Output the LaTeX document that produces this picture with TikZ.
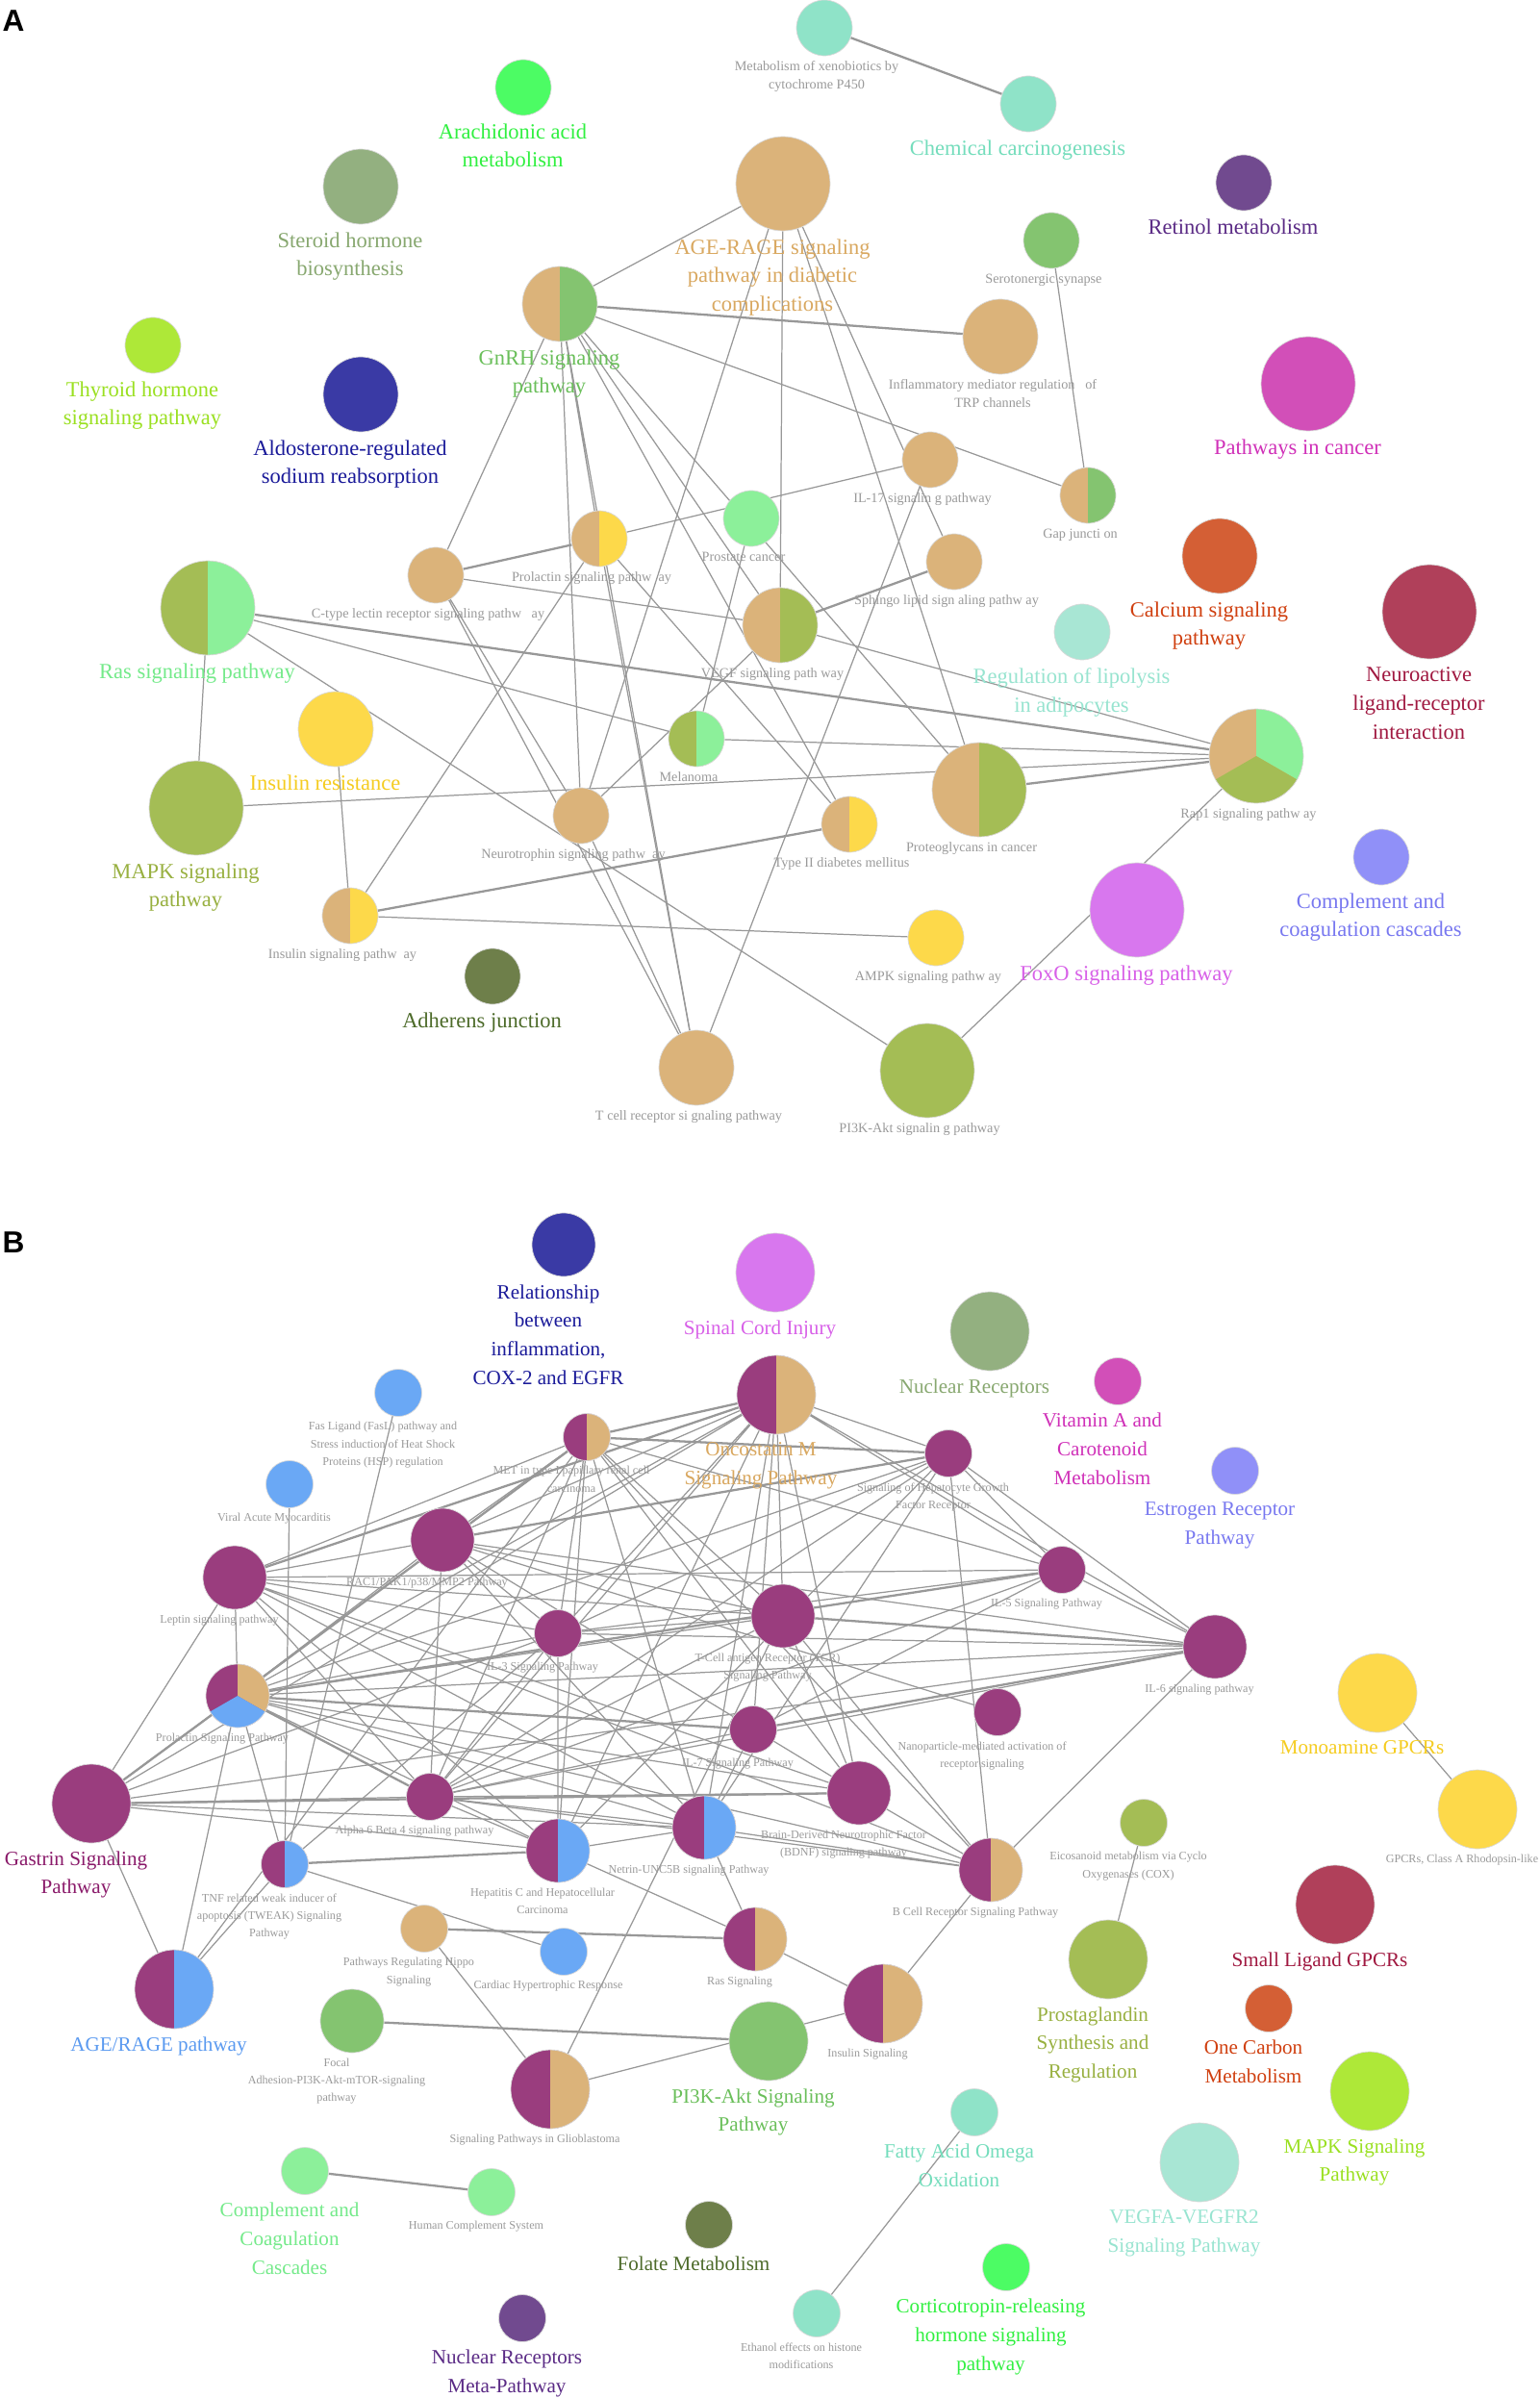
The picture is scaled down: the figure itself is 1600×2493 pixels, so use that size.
\documentclass[tikz,border=0pt]{standalone}
\usepackage{fontspec}
\setmainfont{Liberation Serif}
\newfontfamily\panelfont{Liberation Sans}
\usetikzlibrary{shapes}
\pgfdeclarelayer{paper}
\pgfdeclarelayer{links}
\pgfsetlayers{paper,links,main}

\definecolor{tanc}{HTML}{DBB37A}
\definecolor{grnc}{HTML}{84C470}
\definecolor{olvc}{HTML}{A4BD55}
\definecolor{ltgc}{HTML}{8CF09A}
\definecolor{ylwc}{HTML}{FDD94A}
\definecolor{tealc}{HTML}{8FE3C8}
\definecolor{ptealc}{HTML}{A8E6D4}
\definecolor{brgc}{HTML}{4CFC64}
\definecolor{sagec}{HTML}{93B080}
\definecolor{navyc}{HTML}{3A3AA5}
\definecolor{prplc}{HTML}{714A8F}
\definecolor{magc}{HTML}{D24FB8}
\definecolor{orgc}{HTML}{D45F35}
\definecolor{crmc}{HTML}{B0405A}
\definecolor{ygc}{HTML}{AEE838}
\definecolor{vltc}{HTML}{D877EE}
\definecolor{perc}{HTML}{9090F8}
\definecolor{dolvc}{HTML}{6E7F4A}
\definecolor{plumc}{HTML}{9A3D7E}
\definecolor{skyc}{HTML}{6AA8F5}
\definecolor{labgray}{HTML}{9A9A9A}
\definecolor{linkc}{HTML}{989898}
% label colours
\definecolor{navyt}{HTML}{1A1A99}
\definecolor{magt}{HTML}{D030B8}
\definecolor{prplt}{HTML}{5A2A85}
\definecolor{crmt}{HTML}{A01840}
\definecolor{orgt}{HTML}{D04010}
\definecolor{plumt}{HTML}{8A1A6A}
\definecolor{dolvt}{HTML}{4D6B2A}
\definecolor{tant}{HTML}{D9A860}
\definecolor{grnt}{HTML}{6ABF5A}
\definecolor{ltgt}{HTML}{74EA8A}
\definecolor{tealt}{HTML}{74DDBC}
\definecolor{ptealt}{HTML}{98E4D0}
\definecolor{olvt}{HTML}{98B040}
\definecolor{ylwt}{HTML}{F5CC20}
\definecolor{ygt}{HTML}{9AE020}
\definecolor{vltt}{HTML}{D860E8}
\definecolor{pert}{HTML}{7878F0}
\definecolor{brgt}{HTML}{30F040}
\definecolor{saget}{HTML}{88A870}
\definecolor{skyt}{HTML}{5A9AF0}

\begin{document}
\begin{tikzpicture}[x=0.02cm, y=-0.02cm]
\tikzset{
  term/.style={circle, draw=gray!30, line width=0.4pt, inner sep=0pt, fill=#1},
  sA/.style={term=#1, minimum size=1.16cm},
  mA/.style={term=#1, minimum size=1.56cm},
  lA/.style={term=#1, minimum size=1.96cm},
  sB/.style={term=#1, minimum size=0.98cm},
  mB/.style={term=#1, minimum size=1.32cm},
  lB/.style={term=#1, minimum size=1.64cm},
  half/.style={path picture={\fill[#1] (path picture bounding box.north) rectangle (path picture bounding box.south east);}},
  tri/.style 2 args={path picture={
    \fill[#1] (path picture bounding box.center) -- +(90:3cm) -- +(30:3cm) -- +(-30:3cm) -- cycle;
    \fill[#2] (path picture bounding box.center) -- +(210:3cm) -- +(270:3cm) -- +(330:3cm) -- cycle;}},
  bigA/.style={font=\fontsize{12.8}{17}\selectfont, align=center, inner sep=1pt, xshift=-0.22cm, yshift=-0.12cm, text=#1},
  smA/.style={font=\fontsize{8.1}{10.6}\selectfont, align=center, inner sep=1pt, xshift=-0.16cm, yshift=-0.07cm, text=labgray},
  bigB/.style={font=\fontsize{12}{17}\selectfont, align=center, inner sep=1pt, xshift=-0.32cm, yshift=-0.12cm, text=#1},
  smB/.style={font=\fontsize{6.9}{10.4}\selectfont, align=center, inner sep=1pt, xshift=-0.32cm, yshift=-0.07cm, text=labgray},
  link/.style={draw=linkc, line width=0.7pt},
  tlink/.style={draw=linkc, line width=1.3pt},
  panel/.style={font=\panelfont\bfseries\fontsize{18}{18}\selectfont, inner sep=0pt}
}
\useasboundingbox (0,0) rectangle (1600,2493);
\begin{pgfonlayer}{paper}
\fill[white] (0,0) rectangle (1600,2493);
\end{pgfonlayer}

%panel A
\node[panel] (pa) at (14,22) {A};
\node[sA=tealc, label={[smA]below:{Metabolism of xenobiotics by\\cytochrome P450}}] (xeno) at (857,29) {};
\node[sA=tealc, label={[bigA=tealt]below:{Chemical carcinogenesis}}] (chem) at (1069,108) {};
\node[sA=brgc, label={[bigA=brgt]below:{Arachidonic acid\\metabolism}}] (arach) at (544,91) {};
\node[mA=sagec, label={[bigA=saget]below:{Steroid hormone\\biosynthesis}}] (steroid) at (375,194) {};
\node[sA=prplc, label={[bigA=prplt]below:{Retinol metabolism}}] (retinol) at (1293,190) {};
\node[lA=tanc, label={[bigA=tant]below:{AGE-RAGE signaling\\pathway in diabetic\\complications}}] (agr) at (814,191) {};
\node[sA=grnc, label={[smA]below:{Serotonergic synapse}}] (sero) at (1093,250) {};
\node[mA=tanc, half=grnc, label={[bigA=grnt]below:{GnRH signaling\\pathway}}] (gnrh) at (582,316) {};
\node[mA=tanc, label={[smA]below:{Inflammatory mediator regulation~~~of\\TRP channels}}] (inflam) at (1040,350) {};
\node[sA=ygc, label={[bigA=ygt]below:{Thyroid hormone\\signaling pathway}}] (thyroid) at (159,359) {};
\node[mA=navyc, label={[bigA=navyt]below:{Aldosterone-regulated\\sodium reabsorption}}] (aldo) at (375,410) {};
\node[lA=magc, label={[bigA=magt]below:{Pathways in cancer}}] (cancer) at (1360,399) {};
\node[sA=tanc, label={[smA]below:{IL-17 signalin g pathway}}] (il17) at (967,478) {};
\node[sA=tanc, half=grnc, label={[smA]below:{Gap juncti on}}] (gap) at (1131,515) {};
\node[sA=ltgc, label={[smA]below:{Prostate cancer}}] (prostate) at (781,539) {};
\node[sA=tanc, half=ylwc, label={[smA]below:{Prolactin signaling pathw~~ay}}] (prlA) at (623,560) {};
\node[sA=tanc, label={[smA]below:{C-type lectin receptor signaling pathw~~~ay}}] (ctype) at (453,598) {};
\node[sA=tanc, label={[smA]below:{Sphingo lipid sign aling pathw ay}}] (sphingo) at (992,584) {};
\node[mA=orgc, label={[bigA=orgt]below:{Calcium signaling\\pathway}}] (calcium) at (1268,578) {};
\node[lA=crmc, label={[bigA=crmt]below:{Neuroactive\\ligand-receptor\\interaction}}] (nlr) at (1486,636) {};
\node[lA=olvc, half=ltgc, label={[bigA=ltgt]below:{Ras signaling pathway}}] (ras) at (216,632) {};
\node[mA=tanc, half=olvc, label={[smA]below:{VEGF signaling path way}}] (vegf) at (811,650) {};
\node[sA=ptealc, label={[bigA=ptealt]below:{Regulation of lipolysis\\in adipocytes}}] (lipo) at (1125,657) {};
\node[mA=ylwc, label={[bigA=ylwt]below:{Insulin resistance}}] (insres) at (349,758) {};
\node[sA=olvc, half=ltgc, label={[smA]below:{Melanoma}}] (melanoma) at (724,768) {};
\node[lA=tanc, tri={ltgc}{olvc}, label={[smA]below:{Rap1 signaling pathw ay}}] (rap1) at (1306,786) {};
\node[lA=tanc, half=olvc, label={[smA]below:{Proteoglycans in cancer}}] (proteo) at (1018,821) {};
\node[lA=olvc, label={[bigA=olvt]below:{MAPK signaling\\pathway}}] (mapk) at (204,840) {};
\node[sA=tanc, label={[smA]below:{Neurotrophin signaling pathw~~ay}}] (neurotro) at (604,848) {};
\node[sA=tanc, half=ylwc, label={[smA]below:{Type II diabetes mellitus}}] (t2d) at (883,857) {};
\node[sA=perc, label={[bigA=pert]below:{Complement and\\coagulation cascades}}] (complA) at (1436,891) {};
\node[sA=tanc, half=ylwc, label={[smA]below:{Insulin signaling pathw~~ay}}] (inssig) at (364,952) {};
\node[sA=ylwc, label={[smA]below:{AMPK signaling pathw ay}}] (ampk) at (973,975) {};
\node[lA=vltc, label={[bigA=vltt]below:{FoxO signaling pathway}}] (foxo) at (1182,946) {};
\node[sA=dolvc, label={[bigA=dolvt]below:{Adherens junction}}] (adherens) at (512,1015) {};
\node[mA=tanc, label={[smA]below:{T cell receptor si gnaling pathway}}] (tcell) at (724,1110) {};
\node[lA=olvc, label={[smA]below:{PI3K-Akt signalin g pathway}}] (pi3k) at (964,1113) {};

%panel B
\node[panel] (pb) at (14,1292) {B};
\node[mB=navyc, label={[bigB=navyt]below:{Relationship\\between\\inflammation,\\COX-2 and EGFR}}] (rel) at (586,1294) {};
\node[lB=vltc, label={[bigB=vltt]below:{Spinal Cord Injury}}] (spinal) at (806,1323) {};
\node[lB=sagec, label={[bigB=saget]below:{Nuclear Receptors}}] (nucrec) at (1029,1384) {};
\node[sB=magc, label={[bigB=magt]below:{Vitamin A and\\Carotenoid\\Metabolism}}] (vita) at (1162,1436) {};
\node[sB=perc, label={[bigB=pert]below:{Estrogen Receptor\\Pathway}}] (estro) at (1284,1529) {};
\node[lB=plumc, half=tanc, label={[bigB=tant]below:{Oncostatin M\\Signaling Pathway}}] (onco) at (807,1450) {};
\node[sB=plumc, half=tanc, label={[smB]below:{MET in type I papillary renal cell\\carcinoma}}] (met) at (610,1494) {};
\node[sB=plumc, label={[smB]below:{Signaling of Hepatocyte Growth\\Factor Receptor}}] (hgf) at (986,1511) {};
\node[sB=skyc, label={[smB]below:{Fas Ligand (FasL) pathway and\\Stress induction of Heat Shock\\Proteins (HSP) regulation}}] (fas) at (414,1448) {};
\node[sB=skyc, label={[smB]below:{Viral Acute Myocarditis}}] (viral) at (301,1543) {};
\node[mB=plumc, label={[smB]below:{RAC1/PAK1/p38/MMP2 Pathway}}] (rac) at (460,1601) {};
\node[mB=plumc, label={[smB]below:{Leptin signaling pathway}}] (leptin) at (244,1640) {};
\node[sB=plumc, label={[smB]below:{IL-3 Signaling Pathway}}] (il3) at (580,1698) {};
\node[sB=plumc, label={[smB]below:{IL-5 Signaling Pathway}}] (il5) at (1104,1632) {};
\node[mB=plumc, label={[smB]below:{T-Cell antigen Receptor (TCR)\\Signaling Pathway}}] (tcr) at (814,1680) {};
\node[mB=plumc, label={[smB]below:{IL-6 signaling pathway}}] (il6) at (1263,1712) {};
\node[mB=plumc, tri={tanc}{skyc}, label={[smB]below:{Prolactin Signaling Pathway}}] (prlB) at (247,1763) {};
\node[sB=plumc, label={[smB]below:{IL-7 Signaling Pathway}}] (il7) at (783,1798) {};
\node[sB=plumc, label={[smB]below:{Nanoparticle-mediated activation of\\receptor signaling}}] (nano) at (1037,1780) {};
\node[lB=ylwc, label={[bigB=ylwt]below:{Monoamine GPCRs}}] (mono) at (1432,1760) {};
\node[sB=plumc, label={[smB]below:{Alpha 6 Beta 4 signaling pathway}}] (alpha) at (447,1868) {};
\node[lB=plumc, label={[bigB=plumt]below:{Gastrin Signaling\\Pathway}}] (gastrin) at (95,1875) {};
\node[mB=plumc, label={[smB]below:{Brain-Derived Neurotrophic Factor\\(BDNF) signaling pathway}}] (bdnf) at (893,1864) {};
\node[mB=plumc, half=skyc, label={[smB]below:{Netrin-UNC5B signaling Pathway}}] (netrin) at (732,1900) {};
\node[mB=plumc, half=skyc, label={[smB]below:{Hepatitis C and Hepatocellular\\Carcinoma}}] (hepc) at (580,1924) {};
\node[sB=plumc, half=skyc, label={[smB]below:{TNF related weak inducer of\\apoptosis (TWEAK) Signaling\\Pathway}}] (tweak) at (296,1938) {};
\node[sB=olvc, label={[smB]below:{Eicosanoid metabolism via Cyclo\\Oxygenases (COX)}}] (eico) at (1189,1895) {};
\node[lB=ylwc, label={[smB]below:{GPCRs, Class A Rhodopsin-like}}] (gpcr) at (1536,1881) {};
\node[mB=plumc, half=tanc, label={[smB]below:{B Cell Receptor Signaling Pathway}}] (bcell) at (1030,1944) {};
\node[lB=crmc, label={[bigB=crmt]below:{Small Ligand GPCRs}}] (slig) at (1388,1980) {};
\node[sB=tanc, label={[smB]below:{Pathways Regulating Hippo\\Signaling}}] (hippo) at (441,2005) {};
\node[sB=skyc, label={[smB]below:{Cardiac Hypertrophic Response}}] (cardiac) at (586,2029) {};
\node[mB=plumc, half=tanc, label={[smB]below:{Ras Signaling}}] (rasB) at (785,2016) {};
\node[lB=plumc, half=skyc, label={[bigB=skyt]below:{AGE/RAGE pathway}}] (agerage) at (181,2068) {};
\node[lB=plumc, half=tanc, label={[smB]below:{Insulin Signaling}}] (insB) at (918,2083) {};
\node[mB=grnc, label={[smB]below:{Focal\\Adhesion-PI3K-Akt-mTOR-signaling\\pathway}}] (focal) at (366,2101) {};
\node[lB=olvc, label={[bigB=olvt]below:{Prostaglandin\\Synthesis and\\Regulation}}] (prosta) at (1152,2037) {};
\node[sB=orgc, label={[bigB=orgt]below:{One Carbon\\Metabolism}}] (onec) at (1319,2088) {};
\node[lB=grnc, label={[bigB=grnt]below:{PI3K-Akt Signaling\\Pathway}}] (pi3kB) at (799,2122) {};
\node[lB=plumc, half=tanc, label={[smB]below:{Signaling Pathways in Glioblastoma}}] (glio) at (572,2172) {};
\node[lB=ygc, label={[bigB=ygt]below:{MAPK Signaling\\Pathway}}] (mapkB) at (1424,2174) {};
\node[sB=tealc, label={[bigB=tealt]below:{Fatty Acid Omega\\Oxidation}}] (fatty) at (1013,2196) {};
\node[sB=ltgc, label={[bigB=ltgt]below:{Complement and\\Coagulation\\Cascades}}] (compB) at (317,2257) {};
\node[sB=ltgc, label={[smB]below:{Human Complement System}}] (humcomp) at (511,2279) {};
\node[lB=ptealc, label={[bigB=ptealt]below:{VEGFA-VEGFR2\\Signaling Pathway}}] (vegfa) at (1247,2248) {};
\node[sB=dolvc, label={[bigB=dolvt]below:{Folate Metabolism}}] (folate) at (737,2313) {};
\node[sB=brgc, label={[bigB=brgt]below:{Corticotropin-releasing\\hormone signaling\\pathway}}] (crh) at (1046,2357) {};
\node[sB=tealc, label={[smB]below:{Ethanol effects on histone\\modifications}}] (ethanol) at (849,2405) {};
\node[sB=prplc, label={[bigB=prplt]below:{Nuclear Receptors\\Meta-Pathway}}] (nrmeta) at (543,2410) {};

\begin{pgfonlayer}{links}
%draw links A
\draw[tlink] (xeno) -- (chem) (gnrh) -- (inflam) (ctype) -- (prlA) (sphingo) -- (vegf)
  (proteo) -- (rap1) (ras) -- (rap1) (inssig) -- (t2d);
\draw[link] (agr) -- (gnrh) (agr) -- (neurotro) (agr) -- (vegf) (agr) -- (proteo) (agr) -- (sphingo);
\draw[link] (gnrh) -- (gap) (sero) -- (gap) (gnrh) -- (ctype) (gnrh) -- (prlA) (gnrh) -- (neurotro)
  (gnrh) -- (tcell) (gnrh) -- (vegf) (gnrh) -- (proteo) (gnrh) -- (t2d);
\draw[link] (prlA) -- (il17) (ctype) -- (vegf) (ctype) -- (neurotro) (ctype) -- (tcell) (il17) -- (tcell);
\draw[link] (vegf) -- (rap1) (vegf) -- (neurotro) (melanoma) -- (rap1) (mapk) -- (rap1)
  (ras) -- (melanoma) (ras) -- (mapk) (ras) -- (pi3k) (prostate) -- (melanoma);
\draw[link] (insres) -- (inssig) (inssig) -- (ampk) (inssig) -- (prlA) (neurotro) -- (tcell)
  (prlA) -- (t2d) (prlA) -- (tcell) (rap1) -- (pi3k);

%draw links B
\draw[tlink] (prlB) -- (gastrin) (prlB) -- (alpha) (met) -- (prlB) (met) -- (onco) (rac) -- (hgf)
  (gastrin) -- (bdnf) (hepc) -- (tweak) (il5) -- (prlB) (il6) -- (il7) (leptin) -- (onco)
  (focal) -- (pi3kB) (hippo) -- (rasB) (compB) -- (humcomp) (il7) -- (prlB) (il6) -- (tcr)
  (met) -- (hgf);
\draw[link] (leptin) -- (gastrin) (leptin) -- (prlB) (leptin) -- (met) (leptin) -- (rac)
  (leptin) -- (il5) (leptin) -- (tcr) (leptin) -- (il3) (leptin) -- (alpha) (leptin) -- (hepc)
  (leptin) -- (bdnf) (leptin) -- (bcell) (leptin) -- (netrin);
\draw[link] (rac) -- (onco) (rac) -- (met) (rac) -- (il3) (rac) -- (tcr) (rac) -- (alpha)
  (rac) -- (bdnf) (rac) -- (nano) (rac) -- (netrin) (rac) -- (il6) (rac) -- (prlB);
\draw[link] (met) -- (il3) (met) -- (tcr) (met) -- (il5) (met) -- (bdnf) (met) -- (bcell)
  (met) -- (netrin) (met) -- (alpha) (met) -- (gastrin) (met) -- (agerage) (met) -- (hepc);
\draw[link] (onco) -- (hgf) (onco) -- (il5) (onco) -- (il6) (onco) -- (il3) (onco) -- (tcr)
  (onco) -- (alpha) (onco) -- (prlB) (onco) -- (hepc) (onco) -- (bdnf) (onco) -- (netrin)
  (onco) -- (il7) (onco) -- (gastrin);
\draw[link] (hgf) -- (il5) (hgf) -- (il6) (hgf) -- (prlB) (hgf) -- (il3) (hgf) -- (alpha)
  (hgf) -- (hepc) (hgf) -- (bcell) (hgf) -- (netrin);
\draw[link] (il5) -- (il6) (il5) -- (il7) (il5) -- (il3) (il5) -- (alpha)
  (il6) -- (prlB) (il6) -- (il3) (il6) -- (alpha) (il6) -- (bcell) (il6) -- (gastrin);
\draw[link] (il3) -- (prlB) (il3) -- (tcr) (il3) -- (alpha) (il3) -- (hepc) (il3) -- (gastrin)
  (il3) -- (tweak) (tcr) -- (prlB) (tcr) -- (alpha) (tcr) -- (bdnf) (tcr) -- (bcell);
\draw[link] (il7) -- (netrin) (il7) -- (alpha) (bdnf) -- (bcell) (bdnf) -- (prlB) (bdnf) -- (alpha)
  (bcell) -- (prlB) (bcell) -- (netrin) (bcell) -- (alpha) (bcell) -- (insB);
\draw[link] (netrin) -- (prlB) (netrin) -- (alpha) (netrin) -- (hepc) (netrin) -- (gastrin)
  (netrin) -- (rasB) (hepc) -- (prlB) (hepc) -- (alpha) (hepc) -- (gastrin) (hepc) -- (rasB);
\draw[link] (tweak) -- (prlB) (tweak) -- (agerage) (tweak) -- (viral) (tweak) -- (fas)
  (tweak) -- (cardiac) (alpha) -- (gastrin) (gastrin) -- (agerage) (agerage) -- (prlB);
\draw[link] (rasB) -- (insB) (glio) -- (hippo) (glio) -- (insB) (glio) -- (tcr)
  (eico) -- (prosta) (mono) -- (gpcr) (fatty) -- (ethanol);
\end{pgfonlayer}
\end{tikzpicture}
\end{document}
